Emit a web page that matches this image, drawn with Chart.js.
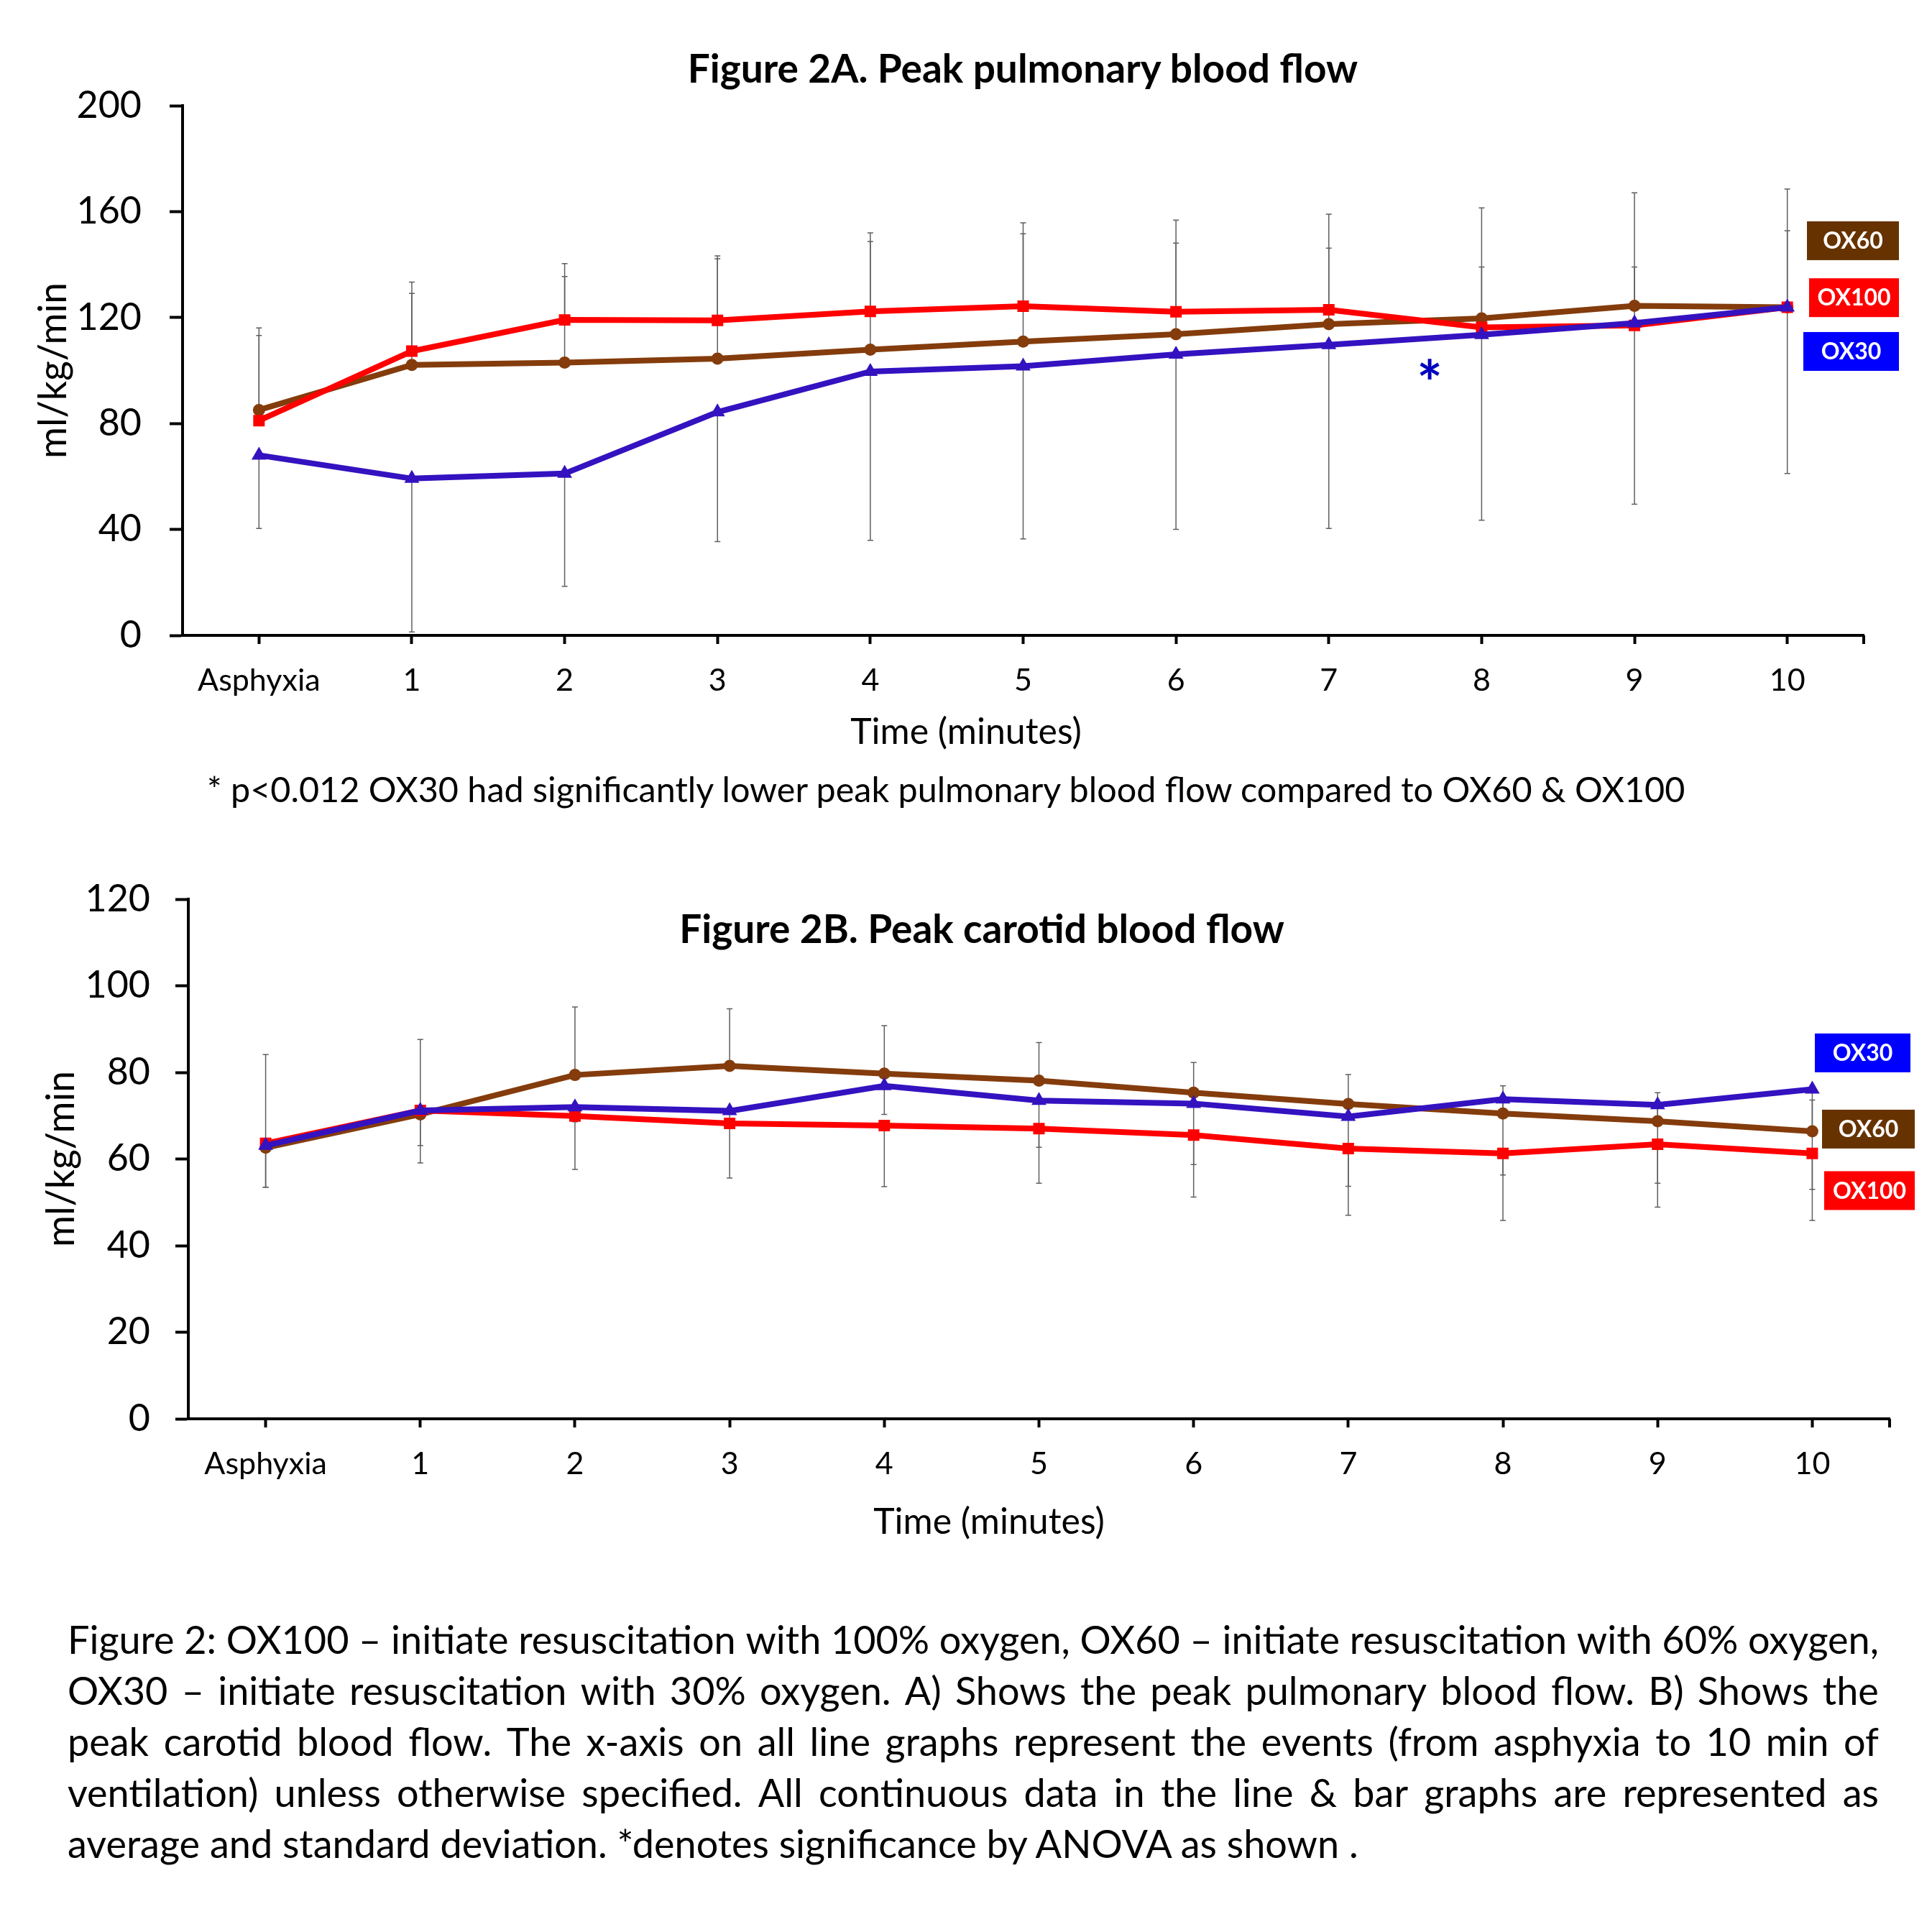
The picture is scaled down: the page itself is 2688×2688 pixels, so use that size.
<!DOCTYPE html>
<html>
<head>
<meta charset="utf-8">
<script src="https://cdn.jsdelivr.net/npm/chart.js@4.4.1/dist/chart.umd.min.js"></script>
<style>
  html, body { margin: 0; padding: 0; background: #fff; }
  body { width: 2688px; height: 2688px; position: relative; overflow: hidden; font-family: Lato, sans-serif; color: #000; }
  canvas { position: absolute; left: 0; }
  .fig-title { position: absolute; font-weight: bold; font-size: 55px; white-space: nowrap; transform: translate(-50%, -50%); }
  .axis-title { position: absolute; font-size: 50px; white-space: nowrap; transform: translate(-50%, -50%); }
  .note { position: absolute; left: 288px; top: 1097px; font-size: 48.5px; white-space: nowrap; transform: translateY(-50%); }
  .caption { position: absolute; left: 94px; top: 2245px; width: 2520px; font-size: 54px; line-height: 71px; }
  .caption .j { display: flex; justify-content: space-between; white-space: nowrap; }
</style>
</head>
<body>
<canvas id="pulmChart" width="2688" height="1060" style="top:0;width:2688px;height:1060px"></canvas>
<canvas id="carotidChart" width="2688" height="1000" style="top:1160px;width:2688px;height:1000px"></canvas>

<div class="fig-title" style="left:1423px;top:94px">Figure 2A. Peak pulmonary blood flow</div>
<div class="axis-title" style="left:1344px;top:1016px">Time (minutes)</div>
<div class="note">* p&lt;0.012 OX30 had significantly lower peak pulmonary blood flow compared to OX60 &amp; OX100</div>

<div class="fig-title" style="left:1366px;top:1291px">Figure 2B. Peak carotid blood flow</div>
<div class="axis-title" style="left:1376px;top:2115px">Time (minutes)</div>

<div class="caption">
  <div class="j">Figure 2: OX100 – initiate resuscitation with 100% oxygen, OX60 – initiate resuscitation with 60% oxygen,</div>
  <div class="j">OX30 – initiate resuscitation with 30% oxygen. A) Shows the peak pulmonary blood flow. B) Shows the</div>
  <div class="j">peak carotid blood flow. The x-axis on all line graphs represent the events (from asphyxia to 10 min of</div>
  <div class="j">ventilation) unless otherwise specified. All continuous data in the line &amp; bar graphs are represented as</div>
  <div>average and standard deviation. *denotes significance by ANOVA as shown .</div>
</div>

<script>
const timeLabels = ['Asphyxia', '1', '2', '3', '4', '5', '6', '7', '8', '9', '10'];

// Figure 2A - peak pulmonary blood flow (ml/kg/min)
const pulmOX100 = [81.1, 107.3, 119.1, 118.9, 122.3, 124.3, 122.2, 122.9, 116.3, 117.0, 123.9];
const pulmOX100Sd = [35.0, 26.1, 21.3, 24.4, 29.7, 31.5, 34.6, 36.1, 45.1, 50.1, 44.6];
const pulmOX60 = [85.1, 102.1, 103.0, 104.5, 107.9, 110.9, 113.7, 117.5, 119.7, 124.4, 123.9];
const pulmOX60Sd = [28.1, 27.0, 32.5, 37.7, 40.8, 40.7, 34.4, 28.7, 19.4, 14.7, 28.9];
const pulmOX30 = [68.0, 59.2, 61.1, 84.3, 99.6, 101.6, 106.1, 109.7, 113.5, 117.9, 123.9];
const pulmOX30Sd = [27.6, 57.9, 42.6, 48.9, 63.7, 65.2, 66.1, 69.3, 70.0, 68.4, 62.8];
const pulmTicks = [0, 40, 80, 120, 160, 200];

// Figure 2B - peak carotid blood flow (ml/kg/min)
const carOX100 = [63.6, 71.2, 69.9, 68.2, 67.7, 67.0, 65.5, 62.4, 61.3, 63.4, 61.3];
const carOX100Sd = [10.1, 12.1, 12.3, 12.6, 14.1, 12.6, 14.3, 15.4, 15.5, 14.5, 15.5];
const carOX60 = [62.6, 70.3, 79.4, 81.5, 79.7, 78.1, 75.3, 72.7, 70.5, 68.7, 66.4];
const carOX60Sd = [21.5, 17.3, 15.7, 13.2, 11.1, 8.8, 7.0, 6.8, 6.4, 6.6, 7.2];
const carOX30 = [63.1, 71.2, 72.0, 71.1, 76.9, 73.5, 72.8, 69.8, 73.8, 72.5, 76.1];
const carOX30Sd = [9.6, 8.1, 3.4, 3.6, 6.6, 10.8, 14.1, 16.1, 17.5, 18.1, 23.1];
const carTicks = [0, 20, 40, 60, 80, 100, 120];

const RED = '#FF0000';
const BROWN = '#843C0C';
const PURPLE = '#3412C0';

Chart.defaults.font.family = 'Lato';
Chart.defaults.color = '#000';

// justified caption lines: one span per word, spread across the line
document.querySelectorAll('.caption .j').forEach(line => {
    const words = line.textContent.trim().split(/\s+/);
    line.textContent = '';
    words.forEach(w => {
        const span = document.createElement('span');
        span.textContent = w;
        line.appendChild(span);
    });
});

// one-sided SD whiskers, drawn under the lines
const errorBars = {
    id: 'errorBars',
    beforeDatasetsDraw(chart) {
        const { ctx, scales: { x, y } } = chart;
        ctx.save();
        ctx.strokeStyle = '#5f5f5f';
        ctx.lineWidth = 1.5;
        chart.data.datasets.forEach(ds => {
            if (!ds.sd) return;
            ds.data.forEach((v, i) => {
                const px = x.getPixelForValue(i);
                const y0 = y.getPixelForValue(v);
                const y1 = y.getPixelForValue(v + ds.sdSign * ds.sd[i]);
                ctx.beginPath();
                ctx.moveTo(px, y0);
                ctx.lineTo(px, y1);
                ctx.moveTo(px - 4, y1);
                ctx.lineTo(px + 4, y1);
                ctx.stroke();
            });
        });
        ctx.restore();
    }
};

// coloured name tags right of the plot, end tick, significance star
const decorations = {
    id: 'decorations',
    afterDraw(chart, args, opts) {
        const { ctx, chartArea, scales: { x, y } } = chart;
        ctx.save();
        // closing tick at the end of the x axis
        ctx.strokeStyle = '#000';
        ctx.lineWidth = 4;
        ctx.beginPath();
        ctx.moveTo(chartArea.right, chartArea.bottom);
        ctx.lineTo(chartArea.right, chartArea.bottom + 12);
        ctx.stroke();

        ctx.font = 'bold 32px Lato';
        ctx.textAlign = 'center';
        ctx.textBaseline = 'middle';
        (opts.tags || []).forEach(t => {
            const cy = y.getPixelForValue(t.at);
            const right = chartArea.right + t.dx;
            ctx.fillStyle = t.color;
            ctx.fillRect(right - t.w, cy - 27, t.w, 54);
            ctx.fillStyle = '#fff';
            ctx.fillText(t.text, right - t.w / 2, cy + 1);
        });

        if (opts.star) {
            ctx.font = 'bold 84px Lato';
            ctx.fillStyle = '#0000C0';
            ctx.textBaseline = 'alphabetic';
            const m = ctx.measureText('*');
            const sx = x.getPixelForValue(opts.star.x);
            const sy = y.getPixelForValue(opts.star.y);
            ctx.fillText('*', sx, sy + (m.actualBoundingBoxAscent - m.actualBoundingBoxDescent) / 2);
        }
        ctx.restore();
    }
};

function lineSet(label, data, sd, sign, color, style, radius) {
    return {
        label: label,
        data: data,
        sd: sd,
        sdSign: sign,
        borderColor: color,
        backgroundColor: color,
        borderWidth: 8,
        pointStyle: style,
        pointRadius: radius,
        pointBorderWidth: 0,
        pointBackgroundColor: color,
        tension: 0
    };
}

function makeChart(canvasId, datasets, ticks, geom, extras) {
    const ctx = document.getElementById(canvasId).getContext('2d');
    return new Chart(ctx, {
        type: 'line',
        data: { labels: timeLabels, datasets: datasets },
        options: {
            responsive: false,
            devicePixelRatio: 1,
            animation: false,
            layout: { padding: { left: 0, right: geom.padRight, top: geom.padTop, bottom: 0 } },
            plugins: {
                legend: { display: false },
                tooltip: { enabled: false },
                decorations: extras
            },
            scales: {
                x: {
                    type: 'category',
                    offset: true,
                    afterFit: s => { s.height = geom.xHeight; },
                    border: { display: true, color: '#000', width: 4 },
                    grid: { display: true, drawOnChartArea: false, drawTicks: true, tickLength: 12, tickWidth: 4, tickColor: '#000', offset: false },
                    ticks: { font: { size: 43 }, padding: 25, maxRotation: 0, autoSkip: false }
                },
                y: {
                    min: ticks[0],
                    max: ticks[ticks.length - 1],
                    afterFit: s => { s.width = geom.yWidth; },
                    afterBuildTicks: s => { s.ticks = ticks.map(v => ({ value: v })); },
                    border: { display: true, color: '#000', width: 4 },
                    grid: { display: true, drawOnChartArea: false, drawTicks: true, tickLength: 18, tickWidth: 4, tickColor: '#000' },
                    ticks: { font: { size: 52 }, padding: geom.yTickPad },
                    title: { display: true, text: 'ml/kg/min', font: { size: 53.5 }, padding: { top: geom.yTitlePad, bottom: 0 } }
                }
            }
        },
        plugins: [errorBars, decorations]
    });
}

makeChart('pulmChart', [
    lineSet('OX30', pulmOX30, pulmOX30Sd, -1, PURPLE, 'triangle', 12),
    lineSet('OX100', pulmOX100, pulmOX100Sd, 1, RED, 'rect', 11.3),
    lineSet('OX60', pulmOX60, pulmOX60Sd, 1, BROWN, 'circle', 8.5)
], pulmTicks,
{ padRight: 95, padTop: 147, xHeight: 176, yWidth: 254, yTickPad: 39, yTitlePad: 43 },
{
    tags: [
        { text: 'OX60', color: '#663300', at: 149, dx: 49, w: 128 },
        { text: 'OX100', color: '#FF0000', at: 127.5, dx: 49, w: 125 },
        { text: 'OX30', color: '#0000FF', at: 107.2, dx: 49, w: 133 }
    ],
    star: { x: 7.66, y: 100.5 }
});

makeChart('carotidChart', [
    lineSet('OX30', carOX30, carOX30Sd, -1, PURPLE, 'triangle', 12),
    lineSet('OX100', carOX100, carOX100Sd, -1, RED, 'rect', 11.3),
    lineSet('OX60', carOX60, carOX60Sd, 1, BROWN, 'circle', 8.5)
], carTicks,
{ padRight: 59, padTop: 91, xHeight: 186, yWidth: 262, yTickPad: 35, yTitlePad: 54 },
{
    tags: [
        { text: 'OX30', color: '#0000FF', at: 84.5, dx: 29, w: 133 },
        { text: 'OX60', color: '#663300', at: 66.9, dx: 35, w: 129 },
        { text: 'OX100', color: '#FF0000', at: 52.7, dx: 35, w: 126 }
    ]
});
</script>
</body>
</html>
